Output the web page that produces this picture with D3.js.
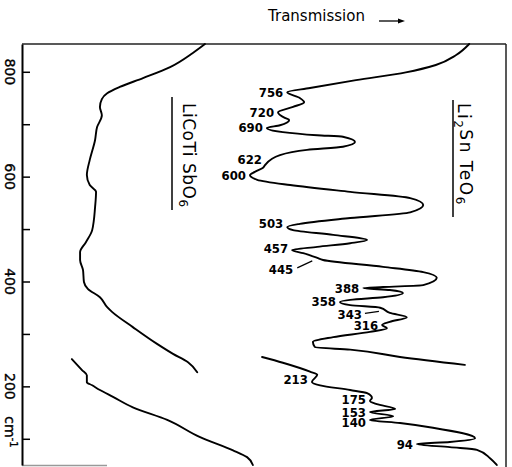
<!DOCTYPE html>
<html>
<head>
<meta charset="utf-8">
<script src="https://cdn.jsdelivr.net/npm/d3@7"></script>
<style>
  body { margin: 0; background: #fff; }
  svg { display: block; font-family: "DejaVu Sans", sans-serif; }
  .band-label { font-family: "DejaVu Sans Condensed", "DejaVu Sans", sans-serif; font-stretch: condensed; font-weight: bold; }
</style>
</head>
<body>
<svg id="chart" width="512" height="467"></svg>
<script>

//*************************************************//
// Spectrum data (wavenumber in cm-1, transmission in %)
//*************************************************//

// LiCoTiSbO6, upper trace
var licoWave  = [853, 836, 809, 788, 771, 759, 748, 733, 717, 694, 670, 632, 603, 584, 571, 542,
                 498, 475, 456, 441, 422, 399, 386, 370, 351, 342, 313, 281, 262, 246, 227];
var licoTrans = [37.8, 35.3, 30.6, 25.0, 20.2, 17.6, 16.5, 16.1, 16.5, 15.5, 15.1, 14.0, 13.4, 14.0, 15.3, 15.1,
                 14.5, 13.2, 12.0, 12.0, 12.6, 12.8, 13.6, 16.1, 17.6, 18.6, 22.9, 27.9, 31.2, 34.3, 36.2];

// LiCoTiSbO6, far-IR trace
var licoLowWave  = [252, 231, 221, 208, 202, 193, 180, 160, 136, 103, 78, 65, 50];
var licoLowTrans = [10.3, 12.4, 13.4, 13.4, 14.5, 16.1, 18.8, 22.9, 30.0, 36.8, 43.6, 46.5, 47.7];

// Li2SnTeO6, upper trace
var lstWave  = [853, 832, 813, 799, 784, 769, 761, 750, 742, 733, 723, 712, 708, 698, 693, 685,
                679, 676, 666, 657, 651, 641, 622, 617, 609, 603, 594, 584, 571, 559, 546, 532,
                521, 510, 504, 498, 489, 479, 473, 466, 460, 454, 445, 441, 428, 418, 407, 393,
                389.4, 387.5, 383.7, 378, 370, 365, 361, 355, 350, 340, 332, 323, 317, 311, 304,
                294, 285, 275, 270, 256, 241];
var lstTrans = [92.4, 89.7, 85.5, 79.3, 69.0, 59.5, 54.8, 57.4, 58.3, 56.0, 52.9, 54.3, 55.2, 53.3, 50.6, 53.9,
                61.0, 66.3, 68.8, 66.3, 58.9, 53.3, 50.2, 49.8, 48.1, 47.1, 48.6, 55.4, 67.8, 80.2, 82.9, 80.2,
                67.8, 57.4, 54.8, 56.0, 64.3, 71.3, 67.8, 61.0, 55.8, 58.1, 61.0, 62.2, 74.6, 82.9, 85.7, 82.9,
                74.6, 70.5, 76.0, 78.7, 74.6, 67.8, 65.7, 67.8, 74.0, 76.0, 79.5, 76.0, 74.4, 75.4, 71.9,
                64.3, 60.1, 60.5, 67.8, 78.1, 91.5];

// Li2SnTeO6, far-IR trace
var lstLowWave  = [256, 245, 228, 222, 208.5, 202, 193, 187, 178, 172, 166, 157, 151, 143, 136, 130,
                   121, 101, 94, 90, 84, 79, 63, 50];
var lstLowTrans = [49.6, 53.9, 59.5, 61.0, 59.9, 61.6, 67.8, 71.3, 72.3, 71.9, 73.3, 77.1, 71.9, 76.7, 71.9, 78.1,
                   84.9, 93.6, 88.4, 81.6, 88.4, 94.0, 96.7, 98.1];

// Band labels
var lstPeaks    = [756, 720, 690, 622, 600, 503, 457, 445, 388, 358, 343, 316];
var lstLowPeaks = [213, 175, 153, 140, 94];
var shoulderPeaks = [622, 445, 343];

// Axis ticks
var waveTicks  = [800, 700, 600, 500, 400, 300, 200, 100];
var waveLabels = [800, 600, 400, 200];


//*************************************************//
// Scales and helpers
//*************************************************//

var svg = d3.select('#chart');

// Plot frame (note: "top" is reserved on window, so keep it in an object)
var frame = { left: 22, right: 506, top: 44, bottom: 465 };

var x = d3.scaleLinear().domain([0, 100]).range([frame.left, frame.right]);
var y = d3.scaleLinear().domain([50, 853]).range([frame.bottom, frame.top]);

var line = d3.line()
    .x(function(d) { return x(d[1]); })
    .y(function(d) { return y(d[0]); })
    .curve(d3.curveMonotoneY);

var pairs = function(wave, trans) {
    return wave.map(function(w, i) { return [w, trans[i]]; });
};

// Point on a trace where a band label should sit
var anchorFor = function(label, wave, trans) {
    if (shoulderPeaks.indexOf(label) >= 0) {
        for (var i = 0; i < wave.length - 1; i++) {
            if (wave[i] >= label && wave[i + 1] <= label) {
                var t = (wave[i] - label) / (wave[i] - wave[i + 1]);
                return [label, trans[i] + t * (trans[i + 1] - trans[i])];
            }
        }
    }
    var mins = [];
    for (var j = 1; j < wave.length - 1; j++) {
        if (trans[j] < trans[j - 1] && trans[j] < trans[j + 1]) mins.push(j);
    }
    var best = d3.least(mins, function(k) { return Math.abs(wave[k] - label); });
    return [wave[best], trans[best]];
};


//*************************************************//
// Frame and wavenumber axis
//*************************************************//

svg.append('line')
    .attr('x1', frame.left).attr('x2', frame.right).attr('y1', frame.top).attr('y2', frame.top)
    .attr('stroke', '#222').attr('stroke-width', 1.5);

svg.append('line')
    .attr('x1', frame.right).attr('x2', frame.right).attr('y1', frame.top).attr('y2', 467)
    .attr('stroke', '#222').attr('stroke-width', 1.5);

svg.append('line')
    .attr('x1', frame.left).attr('x2', 107).attr('y1', frame.bottom + 0.5).attr('y2', frame.bottom + 0.5)
    .attr('stroke', '#999').attr('stroke-width', 1.5);

var axis = svg.append('g')
    .attr('transform', 'translate(' + frame.left + ',0)')
    .call(d3.axisRight(y).tickValues(waveTicks).tickSize(8).tickSizeOuter(0).tickFormat(''));

axis.select('.domain').attr('stroke', '#000').attr('stroke-width', 2);
axis.selectAll('.tick line').attr('stroke', '#000').attr('stroke-width', 1.5);

svg.selectAll('.wave-label')
    .data(waveLabels)
    .enter().append('text')
    .attr('class', 'wave-label')
    .attr('transform', function(d) { return 'translate(10,' + y(d) + ') rotate(90)'; })
    .attr('text-anchor', 'middle')
    .attr('dy', '0.35em')
    .attr('font-size', '14px')
    .attr('stroke', '#000').attr('stroke-width', 0.35)
    .text(function(d) { return d; });

var unit = svg.append('text')
    .attr('transform', 'translate(10,' + (y(200) + 30) + ') rotate(90)')
    .attr('dy', '0.35em')
    .attr('font-size', '14px')
    .attr('stroke', '#000').attr('stroke-width', 0.35);
unit.append('tspan').text('cm');
unit.append('tspan').attr('dy', '-0.45em').attr('font-size', '10px').text('-1');

// Transmission heading with arrow
svg.append('text')
    .attr('x', 268).attr('y', 21)
    .attr('font-size', '15px')
    .text('Transmission');

svg.append('line')
    .attr('x1', 379).attr('x2', 399).attr('y1', 21).attr('y2', 21)
    .attr('stroke', '#000').attr('stroke-width', 1.3);
svg.append('path')
    .attr('d', 'M398,18.5 L405,21 L398,23.5 Z')
    .attr('fill', '#000');


//*************************************************//
// Spectra
//*************************************************//

var traces = [
    pairs(licoWave, licoTrans),
    pairs(licoLowWave, licoLowTrans),
    pairs(lstWave, lstTrans),
    pairs(lstLowWave, lstLowTrans)
];

svg.selectAll('.trace')
    .data(traces)
    .enter().append('path')
    .attr('class', 'trace')
    .attr('d', line)
    .attr('fill', 'none')
    .attr('stroke', '#000')
    .attr('stroke-width', 1.9)
    .attr('stroke-linejoin', 'round')
    .attr('stroke-linecap', 'round');


//*************************************************//
// Band labels
//*************************************************//

// Pixel nudges for labels that do not sit just left of their band
var nudge = {
    622: { dx: -3, dy: -6 },
    503: { dy: -4 },
    457: { dy: -2 },
    445: { dx: -24, dy: 12, leader: [-5, 3, -20, 10] },
    343: { dx: -25, dy: 3, leader: [-8, 0, -22, 2] },
    213: { dy: -2 },
    175: { dy: -2 },
    140: { dy: 3 }
};

var bandLabels = lstPeaks.map(function(p) { return { label: p, at: anchorFor(p, lstWave, lstTrans) }; })
    .concat(lstLowPeaks.map(function(p) { return { label: p, at: anchorFor(p, lstLowWave, lstLowTrans) }; }));

bandLabels.forEach(function(b) {
    var n = nudge[b.label] || {};
    var ax = x(b.at[1]), ay = y(b.at[0]);
    var dx = n.dx !== undefined ? n.dx : -4;
    var dy = n.dy || 0;

    svg.append('text')
        .attr('class', 'band-label')
        .attr('x', ax + dx)
        .attr('y', ay + dy)
        .attr('dy', '0.35em')
        .attr('text-anchor', 'end')
        .attr('font-size', '13px')
        .text(b.label);

    if (n.leader) {
        svg.append('line')
            .attr('x1', ax + n.leader[0]).attr('y1', ay + n.leader[1])
            .attr('x2', ax + n.leader[2]).attr('y2', ay + n.leader[3])
            .attr('stroke', '#000').attr('stroke-width', 1.2);
    }
});


//*************************************************//
// Compound names (rotated, underlined)
//*************************************************//

var name1 = svg.append('text')
    .attr('transform', 'translate(183,103) rotate(90)')
    .attr('font-size', '17px')
    .attr('letter-spacing', '0.5px');
name1.append('tspan').text('LiCoTi SbO');
name1.append('tspan').attr('dy', '0.3em').attr('font-size', '12px').text('6');

svg.append('line')
    .attr('x1', 172).attr('x2', 172).attr('y1', 97).attr('y2', 210)
    .attr('stroke', '#000').attr('stroke-width', 1.5);

var name2 = svg.append('text')
    .attr('transform', 'translate(458,103) rotate(90)')
    .attr('font-size', '17px')
    .attr('letter-spacing', '1.5px');
name2.append('tspan').text('Li');
name2.append('tspan').attr('dy', '0.3em').attr('font-size', '12px').text('2');
name2.append('tspan').attr('dy', '-0.3em').text('Sn TeO');
name2.append('tspan').attr('dy', '0.3em').attr('font-size', '12px').text('6');

svg.append('line')
    .attr('x1', 453).attr('x2', 453).attr('y1', 100).attr('y2', 217)
    .attr('stroke', '#000').attr('stroke-width', 1.5);

</script>
</body>
</html>
